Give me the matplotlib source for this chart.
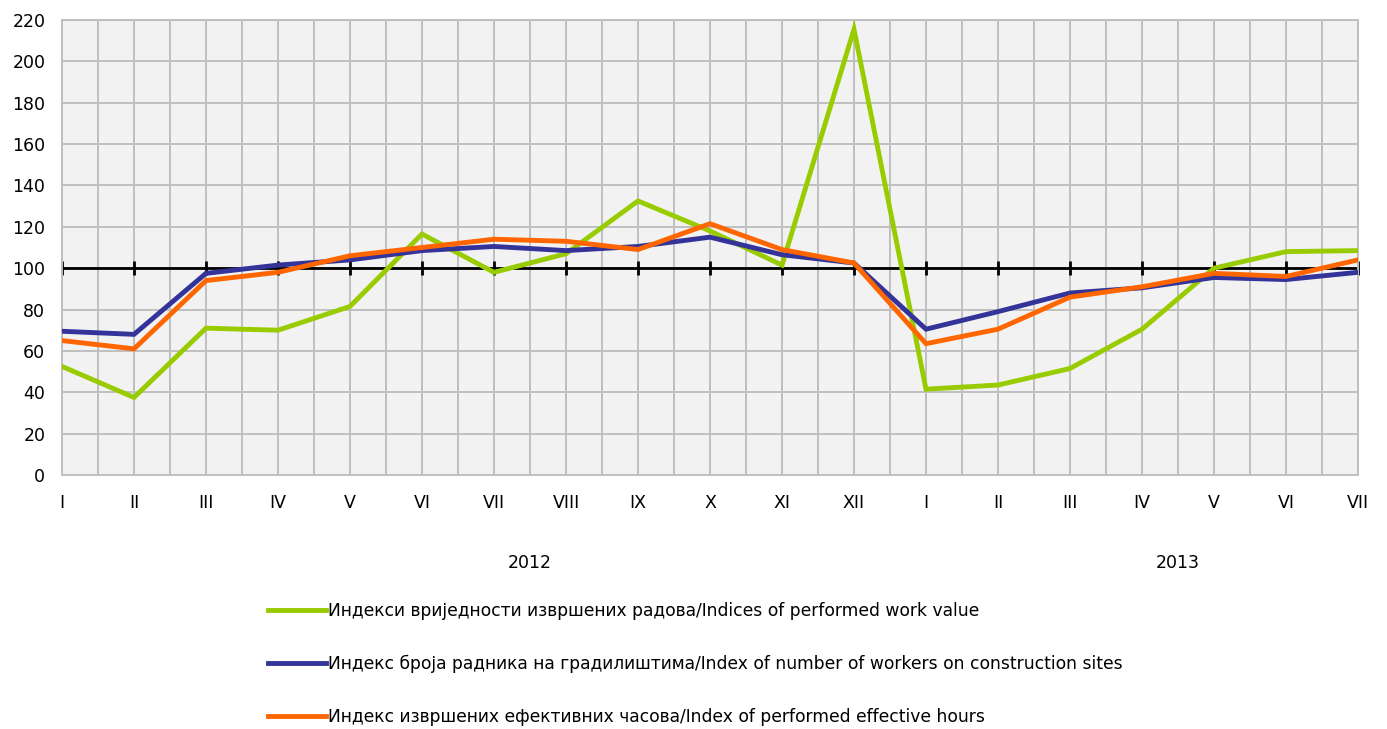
import numpy as np
import matplotlib
matplotlib.use("Agg")
import matplotlib.pyplot as plt
import matplotlib.transforms as mtransforms

plt.rcParams["font.family"] = ["DejaVu Sans"]

# --- Data ---
months = ["I", "II", "III", "IV", "V", "VI", "VII", "VIII", "IX", "X", "XI", "XII",
          "I", "II", "III", "IV", "V", "VI", "VII"]
years = ["2012", "2013"]
year_centers = [6.5, 15.5]

work_value = [52.5, 37.5, 71.0, 70.0, 81.5, 116.5, 98.0, 107.0, 132.5, 118.0, 101.5, 215.5,
              41.5, 43.5, 51.5, 70.5, 100.0, 108.0, 108.5]
workers = [69.5, 68.0, 97.5, 101.5, 104.0, 108.5, 110.5, 108.5, 110.5, 115.0, 106.5, 102.5,
           70.5, 79.0, 88.0, 90.5, 95.5, 94.5, 98.0]
hours = [65.0, 61.0, 94.0, 98.0, 106.0, 110.0, 114.0, 113.0, 109.0, 121.5, 109.0, 102.5,
         63.5, 70.5, 86.0, 91.0, 97.5, 96.0, 104.0]

labels = [
    "Индекси вриједности извршених радова/Indices of performed work value",
    "Индекс броја радника на градилиштима/Index of number of workers on construction sites",
    "Индекс извршених ефективних часова/Index of performed effective hours",
]
colors = ["#99cc00", "#333399", "#ff6600"]

x = np.arange(len(months))

fig = plt.figure(figsize=(13.87, 7.29), dpi=100)
ax = fig.add_axes([62 / 1387, 1 - 475 / 729, 1296 / 1387, 455 / 729])
ax.set_facecolor("#f2f2f2")

# grid: horizontal every 20, vertical every half month
ax.set_xlim(0, len(months) - 1)
ax.set_ylim(0, 220)
ax.set_yticks(np.arange(0, 221, 20))
ax.set_xticks(x)
ax.set_xticklabels(months)
ax.set_xticks(np.arange(0.5, len(months) - 1, 1), minor=True)
ax.grid(True, which="both", color="#bfbfbf", linewidth=1.4)
ax.set_axisbelow(True)
ax.tick_params(axis="both", which="both", length=0, labelsize=12.5, colors="black")
ax.tick_params(axis="y", pad=12)
ax.tick_params(axis="x", pad=14)
for s in ax.spines.values():
    s.set_color("#bfbfbf")
    s.set_linewidth(1.4)

# category axis crossing at 100
ax.axhline(100, color="black", linewidth=2, zorder=2)
ax.plot(x, [100] * len(x), linestyle="none", marker="|", markersize=10,
        markeredgewidth=2, color="black", zorder=2, clip_on=False)

lines = []
for vals, c, lab in zip([work_value, workers, hours], colors, labels):
    ln, = ax.plot(x, vals, color=c, linewidth=3.5, label=lab, zorder=3,
                  solid_joinstyle="miter")
    lines.append(ln)

# year labels
trans = mtransforms.blended_transform_factory(ax.transData, ax.transAxes)
for xc, yr in zip(year_centers, years):
    ax.text(xc, -0.193, yr, transform=trans, ha="center", va="center", fontsize=12.5)

fig.legend(handles=lines, loc="upper left", bbox_to_anchor=(268 / 1387, 1 - 602 / 729),
           frameon=False, fontsize=12.3, handlelength=3.4, handletextpad=0.1,
           labelspacing=2.05, borderpad=0, borderaxespad=0)

fig.savefig("out.png", dpi=100)
